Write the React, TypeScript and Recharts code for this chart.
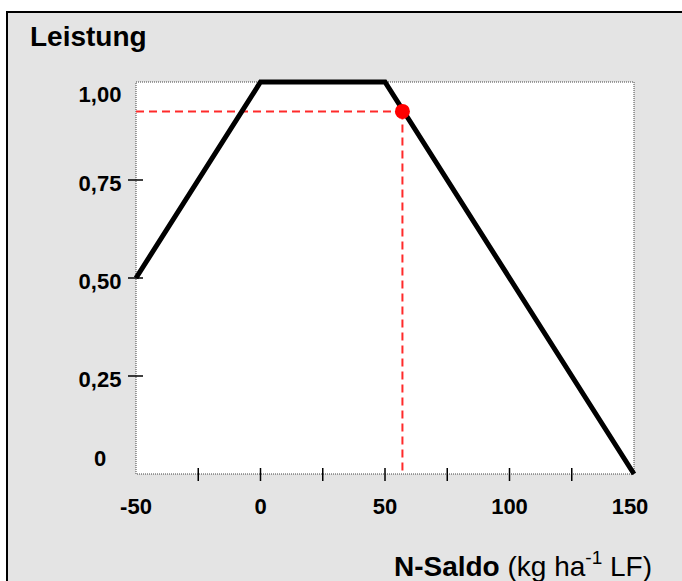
import React from "react";
import {
  ComposedChart,
  Line,
  Scatter,
  XAxis,
  YAxis,
  ReferenceArea,
  ReferenceLine,
} from "recharts";

// Curve vertices (N-Saldo -> Leistung)
const curveX = [-50, 0, 50, 150];
const curveY = [0.5, 1, 1, 0];

// Marked operating point
const pointX = 57;
const pointY = 0.925;

// Axis ticks
const xTicks = [-50, -25, 0, 25, 50, 75, 100, 125, 150];
const xLabelled = [-50, 0, 50, 100, 150];
const yTicks = [0, 0.25, 0.5, 0.75, 1];
const yLabels = ["0", "0,25", "0,50", "0,75", "1,00"];

const curveData = curveX.map((x, i) => ({ x, y: curveY[i] }));
const pointData = [{ x: pointX, y: pointY }];

const FONT = "Arial, 'Liberation Sans', sans-serif";
const W = 682;
const H = 581;

const XTick = (props: any) => {
  const { x, y, payload } = props;
  const v = payload.value;
  const isEnd = v === xTicks[0] || v === xTicks[xTicks.length - 1];
  const labelled = xLabelled.includes(v);
  return (
    <g>
      {!isEnd && <line x1={x} x2={x} y1={y - 6} y2={y + 7} stroke="#000" strokeWidth={1.5} />}
      {labelled && (
        <text
          x={v === 150 ? x - 4 : x}
          y={y + 40}
          textAnchor="middle"
          fontFamily={FONT}
          fontWeight="bold"
          fontSize={22}
          fill="#000"
        >
          {String(v)}
        </text>
      )}
    </g>
  );
};

const YTick = (props: any) => {
  const { x, y, payload, index } = props;
  const v = payload.value;
  const isEnd = v === 0 || v === 1;
  const i = yTicks.indexOf(v);
  const label = yLabels[i >= 0 ? i : index];
  let dy = 11;
  if (v === 1) dy = 20;
  if (v === 0) dy = -8;
  return (
    <g>
      {!isEnd && <line x1={x - 8} x2={x + 7} y1={y} y2={y} stroke="#000" strokeWidth={1.5} />}
      <text
        x={x - 36}
        y={y + dy}
        textAnchor="middle"
        fontFamily={FONT}
        fontWeight="bold"
        fontSize={22}
        fill="#000"
      >
        {label}
      </text>
    </g>
  );
};

export default function App() {
  return (
    <div style={{ position: "absolute", left: 0, top: 0, width: W, height: H, background: "#fff", overflow: "hidden" }}>
      <div
        style={{
          position: "absolute",
          left: 6,
          top: 11,
          width: W,
          height: H,
          background: "#e4e4e4",
          borderLeft: "2px solid #000",
          borderTop: "2px solid #000",
        }}
      />
      <div style={{ position: "absolute", left: 0, top: 0 }}>
        <ComposedChart
          width={W}
          height={H}
          data={curveData}
          margin={{ top: 82, right: 48, bottom: 77, left: 76 }}
        >
          <XAxis
            type="number"
            dataKey="x"
            domain={[-50, 150]}
            ticks={xTicks}
            interval={0}
            axisLine={false}
            tickLine={false}
            tickSize={0}
            tickMargin={0}
            height={30}
            tick={(p: any) => <XTick {...p} />}
          />
          <YAxis
            type="number"
            domain={[0, 1]}
            ticks={yTicks}
            interval={0}
            axisLine={false}
            tickLine={false}
            tickSize={0}
            tickMargin={0}
            width={60}
            tick={(p: any) => <YTick {...p} />}
          />
          <ReferenceArea
            x1={-50}
            x2={150}
            y1={0}
            y2={1}
            fill="#ffffff"
            fillOpacity={1}
            stroke="#444"
            strokeWidth={1}
            strokeDasharray="1 1"
            ifOverflow="visible"
          />
          <ReferenceLine
            segment={[
              { x: -50, y: pointY },
              { x: pointX, y: pointY },
            ]}
            stroke="#ff2a2a"
            strokeWidth={2}
            strokeDasharray="8 5"
            ifOverflow="visible"
          />
          <ReferenceLine
            segment={[
              { x: pointX, y: pointY },
              { x: pointX, y: 0 },
            ]}
            stroke="#ff2a2a"
            strokeWidth={2}
            strokeDasharray="8 5"
            ifOverflow="visible"
          />
          <Line
            type="linear"
            dataKey="y"
            stroke="#000"
            strokeWidth={5}
            dot={false}
            activeDot={false}
            isAnimationActive={false}
            strokeLinejoin="miter"
          />
          <Scatter
            data={pointData}
            dataKey="y"
            fill="#ff0000"
            isAnimationActive={false}
            shape={(p: any) => <circle cx={p.cx} cy={p.cy} r={7.5} fill="#ff0000" />}
          />
        </ComposedChart>
      </div>
      <svg
        width={W}
        height={H}
        style={{ position: "absolute", left: 0, top: 0, pointerEvents: "none" }}
      >
        <text x={30} y={46} fontFamily={FONT} fontWeight="bold" fontSize={28} fill="#000">
          Leistung
        </text>
        <text x={652} y={576} textAnchor="end" fontFamily={FONT} fontSize={28} fill="#000">
          <tspan fontWeight="bold">N-Saldo</tspan>
          <tspan> (kg ha</tspan>
          <tspan dy={-12} fontSize={19}>-1</tspan>
          <tspan dy={12}> LF)</tspan>
        </text>
      </svg>
    </div>
  );
}
